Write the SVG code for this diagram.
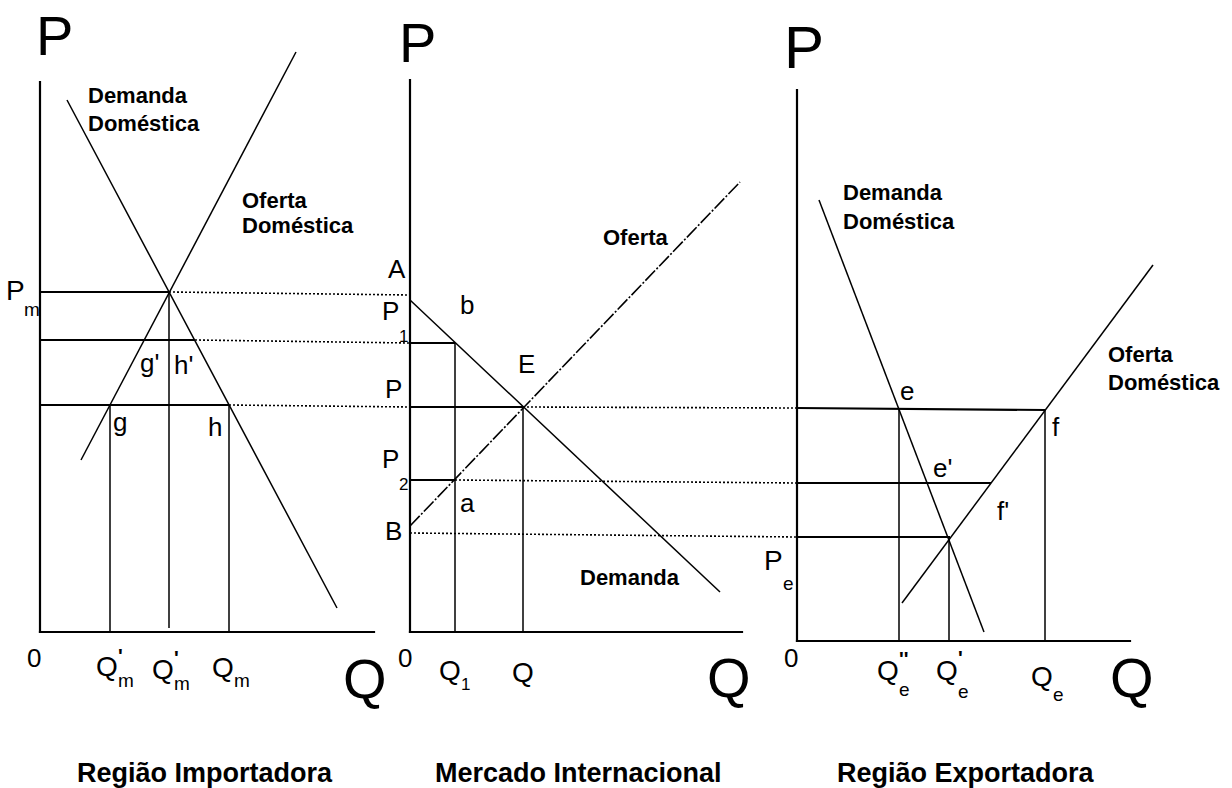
<svg xmlns="http://www.w3.org/2000/svg" width="1232" height="788" viewBox="0 0 1232 788">
<style>
.ax{stroke:#000;stroke-width:2.2;fill:none;stroke-linecap:square}
.crv{stroke:#000;stroke-width:1.5;fill:none}
.dd{stroke:#000;stroke-width:1.6;fill:none;stroke-dasharray:14 2 2 2}
.lvl{stroke:#000;stroke-width:2.2;fill:none}
.vl{stroke:#000;stroke-width:1.5;fill:none}
.dot{stroke:#000;stroke-width:1.6;fill:none;stroke-dasharray:2 2}
text{font-family:"Liberation Sans",Arial,sans-serif;fill:#000}
.lbl{font-size:22px;font-weight:bold}
.pt{font-size:26px}
.sub{font-size:19px}
.dig{font-size:17px}
.pr{font-size:20px;font-weight:bold}
.qq{font-size:28px}
.big{font-size:56px}
.ttl{font-size:27px;font-weight:bold}
</style>
<rect width="1232" height="788" fill="#fff"/>

<g id="connectors">
  <line class="dot" x1="169" y1="292" x2="410" y2="295"/>
  <line class="dot" x1="195" y1="340" x2="410" y2="343"/>
  <line class="dot" x1="229" y1="405" x2="410" y2="407"/>
  <line class="dot" x1="523" y1="407" x2="797" y2="408"/>
  <line class="dot" x1="455" y1="480" x2="797" y2="483"/>
  <line class="dot" x1="410" y1="533" x2="797" y2="537"/>
</g>

<g id="panel-importadora">
  <line class="ax" x1="40" y1="82" x2="40" y2="632"/>
  <line class="ax" x1="40" y1="632" x2="374" y2="632"/>
  <line class="crv" x1="67" y1="100" x2="337" y2="608"/>
  <line class="crv" x1="296" y1="52" x2="81" y2="460"/>
  <line class="lvl" x1="40" y1="292" x2="169" y2="292"/>
  <line class="lvl" x1="40" y1="340" x2="195" y2="340"/>
  <line class="lvl" x1="40" y1="405" x2="229" y2="405"/>
  <line class="vl" x1="110" y1="405" x2="110" y2="632"/>
  <line class="vl" x1="169" y1="292" x2="169" y2="628"/>
  <line class="vl" x1="229" y1="405" x2="229" y2="632"/>
  <text class="big" x="36" y="55">P</text>
  <text class="lbl" x="88" y="103">Demanda</text>
  <text class="lbl" x="88" y="131">Doméstica</text>
  <text class="lbl" x="242" y="208">Oferta</text>
  <text class="lbl" x="242" y="233">Doméstica</text>
  <text class="qq" x="6" y="300">P</text>
  <text class="sub" x="24" y="316">m</text>
  <text class="pt" x="140" y="372">g'</text>
  <text class="pt" x="174" y="374">h'</text>
  <text class="pt" x="113" y="431">g</text>
  <text class="pt" x="208" y="436">h</text>
  <text class="pt" x="27" y="667">0</text>
  <text class="qq" x="96" y="676">Q</text>
  <text class="pr" x="118" y="663">'</text>
  <text class="sub" x="118" y="687">m</text>
  <text class="qq" x="152" y="679">Q</text>
  <text class="pr" x="174" y="665">'</text>
  <text class="sub" x="174" y="690">m</text>
  <text class="qq" x="212" y="677">Q</text>
  <text class="sub" x="234" y="687">m</text>
  <text class="big" x="343" y="698">Q</text>
</g>

<g id="panel-mercado">
  <line class="ax" x1="410" y1="80" x2="410" y2="632"/>
  <line class="ax" x1="410" y1="632" x2="742" y2="632"/>
  <line class="crv" x1="410" y1="300" x2="720" y2="592"/>
  <line class="dd" x1="410" y1="526" x2="740" y2="182"/>
  <line class="lvl" x1="410" y1="343" x2="455" y2="343"/>
  <line class="lvl" x1="410" y1="407" x2="523" y2="407"/>
  <line class="lvl" x1="410" y1="480" x2="455" y2="480"/>
  <line class="vl" x1="455" y1="343" x2="455" y2="632"/>
  <line class="vl" x1="523" y1="407" x2="523" y2="632"/>
  <text class="big" x="399" y="62">P</text>
  <text class="pt" x="388" y="278">A</text>
  <text class="pt" x="382" y="320">P</text>
  <text class="dig" x="399" y="342">1</text>
  <text class="pt" x="460" y="314">b</text>
  <text class="pt" x="518" y="373">E</text>
  <text class="pt" x="385" y="398">P</text>
  <text class="pt" x="382" y="468">P</text>
  <text class="dig" x="399" y="490">2</text>
  <text class="pt" x="460" y="512">a</text>
  <text class="pt" x="385" y="540">B</text>
  <text class="lbl" x="603" y="245">Oferta</text>
  <text class="lbl" x="580" y="585">Demanda</text>
  <text class="pt" x="398" y="667">0</text>
  <text class="qq" x="439" y="680">Q</text>
  <text class="dig" x="461" y="690">1</text>
  <text class="qq" x="512" y="682">Q</text>
  <text class="big" x="707" y="697">Q</text>
</g>

<g id="panel-exportadora">
  <line class="ax" x1="797" y1="90" x2="797" y2="641"/>
  <line class="ax" x1="797" y1="641" x2="1130" y2="641"/>
  <line class="crv" x1="819" y1="200" x2="984" y2="632"/>
  <line class="crv" x1="1153" y1="265" x2="902" y2="603"/>
  <line class="lvl" x1="797" y1="408" x2="1045" y2="410"/>
  <line class="lvl" x1="797" y1="483" x2="991" y2="483"/>
  <line class="lvl" x1="797" y1="537" x2="950" y2="537"/>
  <line class="vl" x1="899" y1="408" x2="899" y2="641"/>
  <line class="vl" x1="949" y1="537" x2="949" y2="641"/>
  <line class="vl" x1="1045" y1="410" x2="1045" y2="641"/>
  <text class="big" x="784" y="68" style="font-size:60px">P</text>
  <text class="lbl" x="843" y="200">Demanda</text>
  <text class="lbl" x="843" y="229">Doméstica</text>
  <text class="lbl" x="1108" y="362">Oferta</text>
  <text class="lbl" x="1108" y="390">Doméstica</text>
  <text class="pt" x="900" y="400">e</text>
  <text class="pt" x="1052" y="436">f</text>
  <text class="pt" x="933" y="477">e'</text>
  <text class="pt" x="997" y="520">f'</text>
  <text class="qq" x="764" y="570">P</text>
  <text class="sub" x="783" y="590">e</text>
  <text class="pt" x="784" y="667">0</text>
  <text class="qq" x="877" y="680">Q</text>
  <text class="pr" x="899" y="666">''</text>
  <text class="sub" x="899" y="696">e</text>
  <text class="qq" x="936" y="680">Q</text>
  <text class="pr" x="958" y="665">'</text>
  <text class="sub" x="958" y="698">e</text>
  <text class="qq" x="1031" y="686">Q</text>
  <text class="sub" x="1053" y="701">e</text>
  <text class="big" x="1110" y="697">Q</text>
</g>

<g id="titles">
  <text class="ttl" x="77" y="782">Região Importadora</text>
  <text class="ttl" x="435" y="782">Mercado Internacional</text>
  <text class="ttl" x="837" y="782">Região Exportadora</text>
</g>
</svg>
